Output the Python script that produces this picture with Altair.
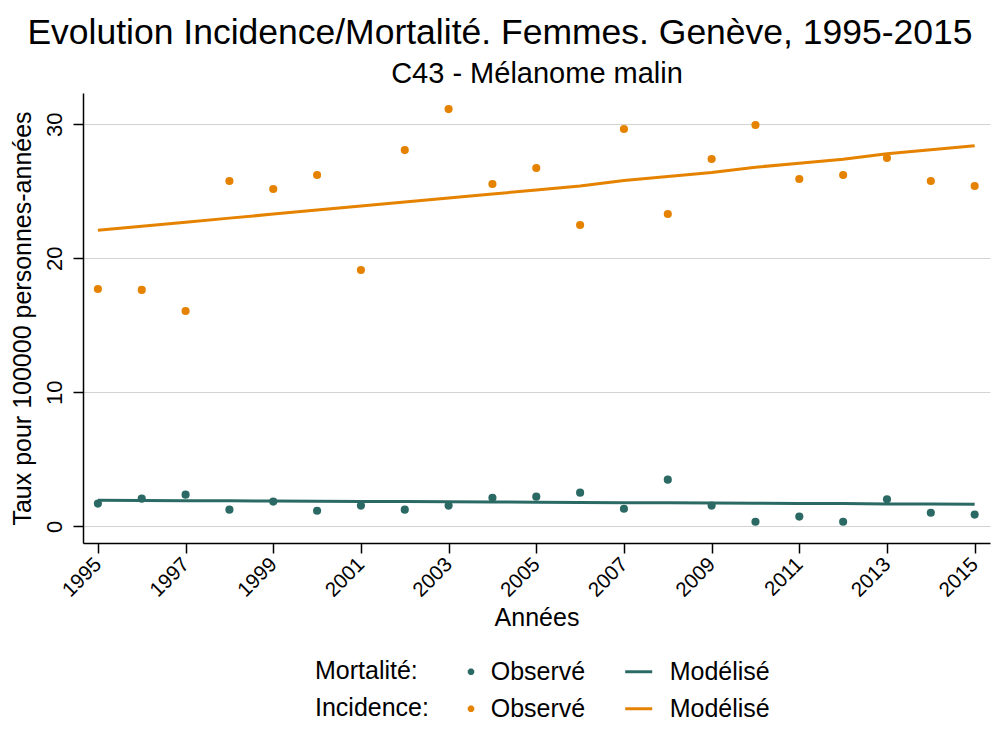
import altair as alt
import pandas as pd

# ---------------- data ----------------
years = list(range(1995, 2016))
inc_obs = [17.71, 17.64, 16.07, 25.77, 25.17, 26.22, 19.13, 28.08, 31.14, 25.55, 26.74,
           22.49, 29.65, 23.31, 27.41, 29.95, 25.92, 26.22, 27.49, 25.77, 25.40]
mort_obs = [1.69, 2.06, 2.36, 1.24, 1.84, 1.16, 1.54, 1.24, 1.54, 2.13, 2.21,
            2.51, 1.31, 3.48, 1.54, 0.34, 0.72, 0.34, 2.01, 1.01, 0.87]
inc_mod = [22.1, 22.4, 22.7, 23.0, 23.3, 23.6, 23.9, 24.2, 24.5, 24.8, 25.1,
           25.4, 25.8, 26.1, 26.4, 26.8, 27.1, 27.4, 27.8, 28.1, 28.4]
mort_mod = [1.94, 1.93, 1.91, 1.90, 1.88, 1.87, 1.85, 1.84, 1.82, 1.81, 1.79,
            1.78, 1.76, 1.75, 1.73, 1.72, 1.70, 1.69, 1.67, 1.66, 1.64]
x_ticks = [1995, 1997, 1999, 2001, 2003, 2005, 2007, 2009, 2011, 2013, 2015]
y_ticks = [0, 10, 20, 30]
legend_kinds = ["Observé", "Modélisé"]

TITLE = "Evolution Incidence/Mortalité. Femmes. Genève, 1995-2015"
SUBTITLE = "C43 - Mélanome malin"
X_TITLE = "Années"
Y_TITLE = "Taux pour 100000 personnes-années"

TEAL = "#2b6a64"
ORANGE = "#e58200"
FONT = "Liberation Sans"

df_inc_obs = pd.DataFrame({"year": years, "value": inc_obs})
df_mort_obs = pd.DataFrame({"year": years, "value": mort_obs})
df_inc_mod = pd.DataFrame({"year": years, "value": inc_mod})
df_mort_mod = pd.DataFrame({"year": years, "value": mort_mod})
df_leg = pd.DataFrame({"year": [2005, 2005], "value": [10, 10], "kind": legend_kinds})

x_scale = alt.Scale(domain=[1994.66, 2015.35], nice=False, zero=False)
y_scale = alt.Scale(domain=[-1.25, 32.34], nice=False, zero=False)

x_main = alt.X("year:Q", scale=x_scale, axis=alt.Axis(
    values=x_ticks, format="d", labelAngle=315, labelAlign="right", labelBaseline="middle",
    labelPadding=8, labelFontSize=20.5, tickSize=10, title=X_TITLE, titleFontSize=25,
    titlePadding=5, grid=False))
y_main = alt.Y("value:Q", scale=y_scale, axis=alt.Axis(
    values=y_ticks, labelAngle=270, labelAlign="center", labelBaseline="alphabetic",
    labelPadding=12, labelFontSize=22, tickSize=10, title=Y_TITLE, titleFontSize=25,
    titlePadding=8, grid=True, gridColor="#d3d3d3", gridWidth=1))

mort_line = alt.Chart(df_mort_mod).mark_line(color=TEAL, strokeWidth=3).encode(x=x_main, y=y_main)
inc_line = alt.Chart(df_inc_mod).mark_line(color=ORANGE, strokeWidth=3).encode(x=x_main, y=y_main)
mort_pts = alt.Chart(df_mort_obs).mark_circle(color=TEAL, size=66, opacity=1).encode(x=x_main, y=y_main)
inc_pts = alt.Chart(df_inc_obs).mark_circle(color=ORANGE, size=66, opacity=1).encode(x=x_main, y=y_main)

data_layer = alt.layer(mort_line, inc_line, mort_pts, inc_pts)

# legend symbols (unit = 13.5 px): small octagonal dot offset right, and a line sample
DOT = ("M1.077,0.1L0.937,0.24L0.737,0.24L0.597,0.1L0.597,-0.1"
       "L0.737,-0.24L0.937,-0.24L1.077,-0.1Z")
LINE = "M-1,-0.11L1,-0.11L1,0.11L-1,0.11Z"


def legend_layer(title, color, ypos, tpad):
    return alt.Chart(df_leg).mark_point(
        filled=True, color=color, opacity=0
    ).encode(
        shape=alt.Shape("kind:N", scale=alt.Scale(domain=legend_kinds, range=[DOT, LINE]),
                        legend=alt.Legend(
                            title=title, orient="none", legendX=232, legendY=ypos,
                            direction="horizontal", titleOrient="left", titleAnchor="middle",
                            titleBaseline="middle", titlePadding=tpad, titleFontSize=25,
                            titleFontWeight="normal", titleColor="black", titleFont=FONT,
                            labelFontSize=25, labelFont=FONT, labelColor="black",
                            labelOffset=17.5, columnPadding=40, symbolSize=729,
                            symbolOpacity=1, symbolFillColor=color,
                            symbolStrokeWidth=0, padding=0, labelLimit=300)),
    )


leg_m = legend_layer("Mortalité:", TEAL, 565, 28.2)
leg_i = legend_layer("Incidence:", ORANGE, 602, 17.2)

subtitle_layer = alt.Chart(df_leg).mark_point(opacity=0).encode(
    x=alt.X("year:Q", scale=x_scale, axis=alt.Axis(
        orient="top", title=SUBTITLE, labels=False, ticks=False, domain=False, grid=False,
        titleFontSize=29, titlePadding=5)),
)

chart = alt.layer(data_layer, leg_m, leg_i, subtitle_layer).resolve_scale(
    shape="independent"
).resolve_axis(
    x="independent"
).properties(
    width=907, height=450,
    autosize=alt.AutoSizeParams(type="none"),
    padding={"left": 75, "top": 85, "right": 2, "bottom": 199},
    title=alt.TitleParams(text=TITLE, fontSize=35.5, font=FONT, fontWeight="normal",
                          color="black", anchor="middle", frame="bounds", offset=8),
).configure_view(
    stroke=None
).configure_axis(
    labelFont=FONT, titleFont=FONT, labelColor="black", titleColor="black",
    titleFontWeight="normal", domainColor="black", domainWidth=1.5,
    tickColor="black", tickWidth=1.5
)

chart.save("out.html", embed_options={"renderer": "svg", "actions": False})
